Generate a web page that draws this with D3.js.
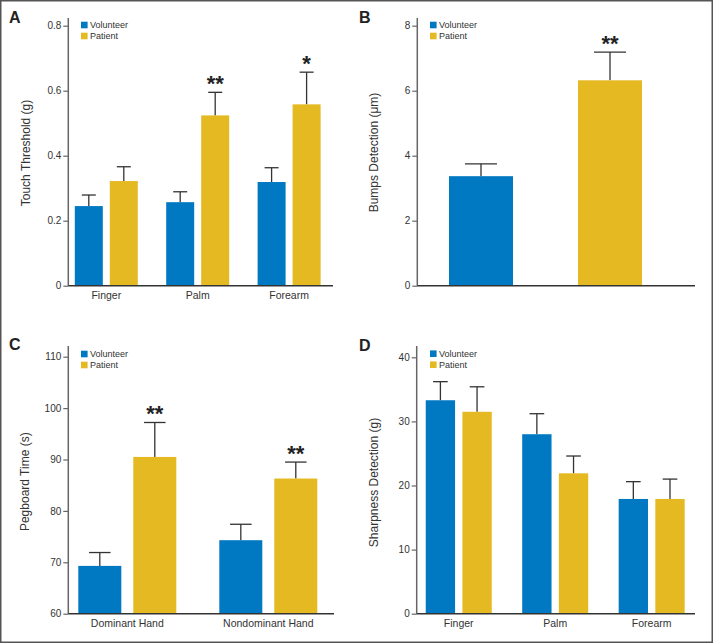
<!DOCTYPE html>
<html><head><meta charset="utf-8">
<script src="https://cdn.jsdelivr.net/npm/d3@7"></script>
<style>
html,body{margin:0;padding:0;background:#fff;}
svg text{font-family:"Liberation Sans",Arial,Helvetica,sans-serif;}
</style></head>
<body>
<svg id="chart" width="714" height="644"></svg>
<script>
// ---------- data ----------
const seriesNames = ["Volunteer", "Patient"];

const touchCats = ["Finger", "Palm", "Forearm"];
const touchVolunteer = [0.245, 0.257, 0.319];
const touchVolunteerSem = [0.034, 0.032, 0.044];
const touchPatient = [0.322, 0.524, 0.558];
const touchPatientSem = [0.044, 0.071, 0.099];
const touchStars = ["", "**", "*"];
const touchTicks = [0, 0.2, 0.4, 0.6, 0.8];
const touchTickLabels = ["0", "0.2", "0.4", "0.6", "0.8"];

const bumpsCats = [""];
const bumpsVolunteer = [3.37];
const bumpsVolunteerSem = [0.38];
const bumpsPatient = [6.32];
const bumpsPatientSem = [0.87];
const bumpsStars = ["**"];
const bumpsTicks = [0, 2, 4, 6, 8];
const bumpsTickLabels = ["0", "2", "4", "6", "8"];

const pegCats = ["Dominant Hand", "Nondominant Hand"];
const pegVolunteer = [69.3, 74.3];
const pegVolunteerSem = [2.6, 3.1];
const pegPatient = [90.5, 86.3];
const pegPatientSem = [6.7, 3.2];
const pegStars = ["**", "**"];
const pegTicks = [60, 70, 80, 90, 100, 110];
const pegTickLabels = ["60", "70", "80", "90", "100", "110"];

const sharpCats = ["Finger", "Palm", "Forearm"];
const sharpVolunteer = [33.3, 28.0, 17.9];
const sharpVolunteerSem = [2.9, 3.2, 2.7];
const sharpPatient = [31.5, 21.9, 17.9];
const sharpPatientSem = [3.9, 2.7, 3.1];
const sharpStars = ["", "", ""];
const sharpTicks = [0, 10, 20, 30, 40];
const sharpTickLabels = ["0", "10", "20", "30", "40"];

// ---------- style ----------
const colors = {Volunteer: "#0079c2", Patient: "#e5b922"};
const svg = d3.select("#chart");

svg.append("rect").attr("x", 0.75).attr("y", 0.75).attr("width", 711.5).attr("height", 641.5)
  .attr("fill", "none").attr("stroke", "#555").attr("stroke-width", 1.5);

function panel(cfg) {
  const g = svg.append("g");
  const y = d3.scaleLinear().domain(cfg.domain).range([cfg.yBottom, cfg.yTop]);
  const x = d3.scaleBand().domain(cfg.cats).range(cfg.xRange).paddingInner(0).paddingOuter(0);
  const sub = d3.scaleBand().domain(seriesNames).range([-cfg.subHalf, cfg.subHalf]).paddingInner(cfg.subPad);
  const bw = sub.bandwidth();

  const rows = [];
  cfg.cats.forEach((c, i) => {
    rows.push({cat: c, s: "Volunteer", v: cfg.vol[i], e: cfg.volSem[i], star: ""});
    rows.push({cat: c, s: "Patient", v: cfg.pat[i], e: cfg.patSem[i], star: cfg.stars[i]});
  });
  const cx = d => x(d.cat) + x.bandwidth() / 2 + sub(d.s);

  // error bars (behind bars)
  const eg = g.append("g").attr("stroke", "#333").attr("stroke-width", 1.3);
  rows.forEach(d => {
    const xc = cx(d) + bw / 2;
    eg.append("line").attr("x1", xc).attr("x2", xc).attr("y1", y(d.v)).attr("y2", y(d.v + d.e));
    eg.append("line").attr("x1", xc - bw / 4).attr("x2", xc + bw / 4)
      .attr("y1", y(d.v + d.e)).attr("y2", y(d.v + d.e));
  });

  g.selectAll("rect.bar").data(rows).enter().append("rect").attr("class", "bar")
    .attr("x", d => cx(d)).attr("width", bw)
    .attr("y", d => y(d.v)).attr("height", d => y(cfg.domain[0]) - y(d.v))
    .attr("fill", d => colors[d.s]);

  g.selectAll("text.star").data(rows.filter(d => d.star)).enter().append("text").attr("class", "star")
    .attr("x", d => cx(d) + bw / 2).attr("y", d => y(d.v + d.e) - 1)
    .attr("text-anchor", "middle").attr("font-size", 22).attr("font-weight", "bold")
    .attr("fill", "#222").text(d => d.star);

  // y axis
  const yAxis = d3.axisLeft(y).tickValues(cfg.ticks).tickSize(5).tickPadding(2)
    .tickFormat((d, i) => cfg.tickLabels[i]);
  const ya = g.append("g").attr("transform", `translate(${cfg.xAxis},0)`).call(yAxis);
  ya.select(".domain").remove();
  ya.selectAll(".tick line").attr("stroke", "#666").attr("stroke-width", 1.2);
  ya.selectAll(".tick text").attr("font-size", 10).attr("fill", "#333");
  g.append("line").attr("x1", cfg.xAxis).attr("x2", cfg.xAxis)
    .attr("y1", cfg.yBottom).attr("y2", cfg.axisTop).attr("stroke", "#666").attr("stroke-width", 1.5);

  // x axis
  const xAxis = d3.axisBottom(x).tickSize(0).tickPadding(6);
  const xa = g.append("g").attr("transform", `translate(0,${cfg.yBottom})`).call(xAxis);
  xa.select(".domain").remove();
  xa.selectAll(".tick text").attr("font-size", 10.5).attr("fill", "#333");
  g.append("line").attr("x1", cfg.xAxis).attr("x2", cfg.xRight)
    .attr("y1", cfg.yBottom).attr("y2", cfg.yBottom).attr("stroke", "#333").attr("stroke-width", 1.5);

  // axis title
  g.append("text").attr("transform", `translate(${cfg.titleX},${cfg.titleY}) rotate(-90)`)
    .attr("text-anchor", "middle").attr("dy", "0.35em").attr("font-size", 12).attr("fill", "#333")
    .text(cfg.title);

  // panel label
  g.append("text").attr("x", cfg.labelX).attr("y", cfg.labelY).attr("font-size", 16)
    .attr("font-weight", "bold").attr("fill", "#222").text(cfg.label);

  // legend
  const lg = g.append("g");
  seriesNames.forEach((s, i) => {
    const yy = cfg.legendY + i * 11;
    lg.append("rect").attr("x", cfg.legendX).attr("y", yy - 3.3).attr("width", 6.6).attr("height", 6.6)
      .attr("fill", colors[s]);
    lg.append("text").attr("x", cfg.legendX + 9).attr("y", yy).attr("dy", "0.35em")
      .attr("font-size", 9).attr("fill", "#333").text(s);
  });
}

panel({label: "A", labelX: 9, labelY: 23, title: "Touch Threshold (g)", titleX: 25.5, titleY: 153,
  cats: touchCats, vol: touchVolunteer, volSem: touchVolunteerSem, pat: touchPatient, patSem: touchPatientSem,
  stars: touchStars, ticks: touchTicks, tickLabels: touchTickLabels,
  domain: [0, 0.8], yBottom: 285.7, yTop: 25.7, axisTop: 18, xAxis: 68.3, xRight: 333,
  xRange: [60.6, 334.8], subHalf: 31.5, subPad: 0.2, legendX: 81, legendY: 25});

panel({label: "B", labelX: 359, labelY: 23, title: "Bumps Detection (\u03bcm)", titleX: 373.5, titleY: 152.5,
  cats: bumpsCats, vol: bumpsVolunteer, volSem: bumpsVolunteerSem, pat: bumpsPatient, patSem: bumpsPatientSem,
  stars: bumpsStars, ticks: bumpsTicks, tickLabels: bumpsTickLabels,
  domain: [0, 8], yBottom: 285.7, yTop: 25.7, axisTop: 18, xAxis: 417.3, xRight: 695,
  xRange: [417.3, 673.7], subHalf: 96.5, subPad: 0.504, legendX: 430, legendY: 25});

panel({label: "C", labelX: 9, labelY: 350, title: "Pegboard Time (s)", titleX: 25, titleY: 481.7,
  cats: pegCats, vol: pegVolunteer, volSem: pegVolunteerSem, pat: pegPatient, patSem: pegPatientSem,
  stars: pegStars, ticks: pegTicks, tickLabels: pegTickLabels,
  domain: [60, 110], yBottom: 613.7, yTop: 356.7, axisTop: 346, xAxis: 68.3, xRight: 334,
  xRange: [56.8, 338.8], subHalf: 49, subPad: 0.218, legendX: 81, legendY: 354});

panel({label: "D", labelX: 359, labelY: 351, title: "Sharpness Detection (g)", titleX: 373.5, titleY: 482.5,
  cats: sharpCats, vol: sharpVolunteer, volSem: sharpVolunteerSem, pat: sharpPatient, patSem: sharpPatientSem,
  stars: sharpStars, ticks: sharpTicks, tickLabels: sharpTickLabels,
  domain: [0, 40], yBottom: 613.7, yTop: 357.3, axisTop: 346, xAxis: 416.7, xRight: 695,
  xRange: [410.5, 699.9], subHalf: 33, subPad: 0.2, legendX: 430, legendY: 353.7});
</script>
</body></html>
